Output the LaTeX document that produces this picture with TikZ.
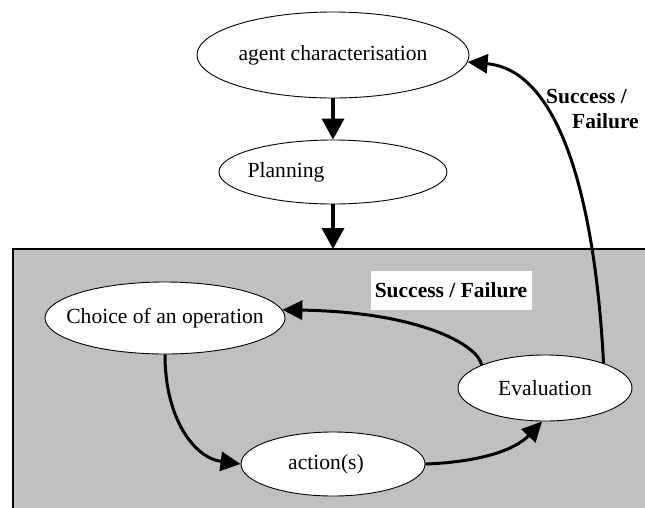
\documentclass[tikz,border=0pt]{standalone}
\usepackage{fontspec}
\setmainfont{Liberation Serif}
\usetikzlibrary{shapes.geometric,arrows.meta}
\definecolor{boxgray}{RGB}{192,192,192}
\newcommand\zw[1]{\makebox[0pt][c]{#1}}
\tikzset{
  oval/.style={ellipse,draw=black,line width=0.9pt,fill=white,inner sep=0pt,font=\fontsize{21.6}{26}\selectfont},
  flow/.style={line width=3pt,-{Triangle[length=20pt,width=19pt]}},
  vflow/.style={line width=4pt,-{Triangle[length=21pt,width=22pt]}},
  lbl/.style={font=\fontsize{21.5}{26}\selectfont\bfseries,inner sep=0pt}
}
\begin{document}
\begin{tikzpicture}[x=1pt,y=-1pt]
\useasboundingbox (0,0) rectangle (645,507);
\clip (0,0) rectangle (645,507);
\fill[white] (0,0) rectangle (645,507);
\draw[fill=boxgray,line width=1.5pt] (13,249) rectangle (660,530);

\node[oval,minimum width=272pt,minimum height=86pt] (agent) at (333,55) {\zw{agent characterisation}};
\node[oval,minimum width=228pt,minimum height=64pt] (plan) at (333,172) {\zw{Planning\hspace*{94pt}}};
\node[oval,minimum width=240pt,minimum height=72pt] (choice) at (165,318) {\zw{Choice of an operation}};
\node[oval,minimum width=184pt,minimum height=64pt] (action) at (333,464) {\zw{action(s)\hspace*{14pt}}};
\node[oval,minimum width=174pt,minimum height=66pt] (eval) at (545,388) {\zw{Evaluation}};
\coordinate (boxtop) at (333,249);

\node[lbl,fill=white,minimum width=161pt,minimum height=39pt] (sf) at (451,290) {Success / Failure};
\node[lbl,anchor=west] (sfa) at (546,97) {Success /};
\node[lbl,anchor=west] (sfb) at (572,121) {Failure};

\draw[vflow] (agent.south) -- (plan.north);
\draw[vflow] (plan.south) -- (boxtop);
\draw[flow] (choice.south) .. controls (165,420) and (195,458) .. (action.west);
\draw[flow] (action.east) .. controls (480,462) and (515,450) .. (eval.265);
\draw[flow] (eval.160) .. controls (478,345) and (420,312) .. (choice.4);
\draw[flow] (eval.23) .. controls (595,200) and (560,70) .. (agent.-3);
\end{tikzpicture}
\end{document}
